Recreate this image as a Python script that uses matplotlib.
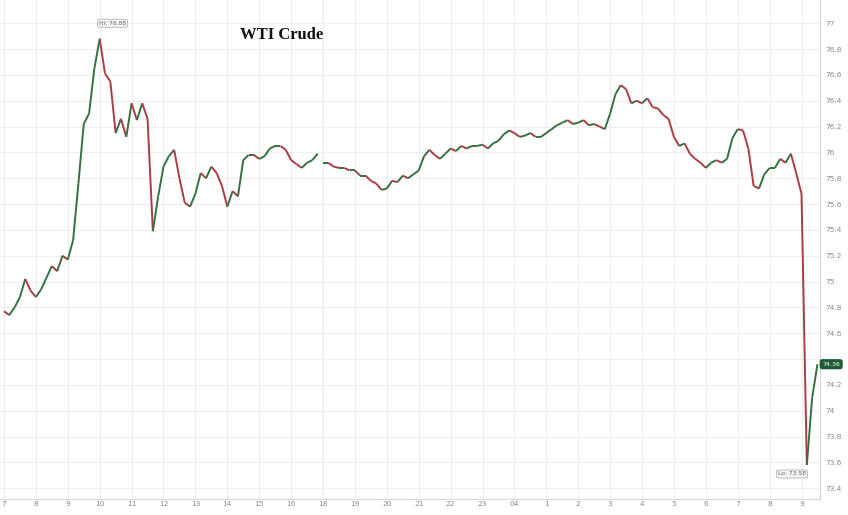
"""
WTI Crude intraday chart, 10-minute closes, two sessions split by the 17:00 break.
"""

import numpy as np
import matplotlib.pyplot as plt
from matplotlib.collections import LineCollection
from matplotlib.ticker import FixedLocator, FuncFormatter


# ---- Data ----

# session 1: 07:00 -> 17:00, one close every 10 minutes
session1_prices = [
    74.77, 74.74, 74.80, 74.88, 75.02, 74.93, 74.88, 74.94, 75.03, 75.12,
    75.08, 75.20, 75.17, 75.32, 75.76, 76.22, 76.30, 76.65, 76.88, 76.61,
    76.55, 76.15, 76.26, 76.12, 76.38, 76.25, 76.38, 76.26, 75.39, 75.66,
    75.89, 75.97, 76.02, 75.80, 75.61, 75.58, 75.68, 75.84, 75.80, 75.89,
    75.84, 75.74, 75.58, 75.70, 75.66, 75.94, 75.98, 75.98, 75.95, 75.97,
    76.03, 76.05, 76.05, 76.02, 75.94, 75.91, 75.88, 75.92, 75.94, 75.99,
]

# session 2: 18:00 -> 09:30 next day, one close every 10 minutes
session2_prices = [
    75.92, 75.92, 75.89, 75.88, 75.88, 75.86, 75.86, 75.82, 75.82, 75.78,
    75.76, 75.71, 75.72, 75.78, 75.77, 75.82, 75.80, 75.83, 75.86, 75.97,
    76.02, 75.98, 75.95, 75.99, 76.03, 76.01, 76.05, 76.03, 76.05, 76.05,
    76.06, 76.03, 76.07, 76.09, 76.14, 76.17, 76.15, 76.12, 76.13, 76.15,
    76.12, 76.12, 76.15, 76.18, 76.21, 76.23, 76.25, 76.22, 76.23, 76.25,
    76.21, 76.22, 76.20, 76.18, 76.30, 76.45, 76.52, 76.49, 76.38, 76.40,
    76.38, 76.42, 76.35, 76.34, 76.29, 76.26, 76.12, 76.05, 76.07, 75.99,
    75.95, 75.92, 75.88, 75.92, 75.94, 75.92, 75.95, 76.11, 76.18, 76.17,
    76.03, 75.74, 75.72, 75.83, 75.88, 75.88, 75.95, 75.92, 75.99, 75.84,
    75.68, 73.58, 74.10, 74.36,
]

hour_labels = ['7', '8', '9', '10', '11', '12', '13', '14', '15', '16',
               '18', '19', '20', '21', '22', '23', '04',
               '1', '2', '3', '4', '5', '6', '7', '8', '9']

price_ticks = [73.4, 73.6, 73.8, 74, 74.2, 74.4, 74.6, 74.8, 75, 75.2,
               75.4, 75.6, 75.8, 76, 76.2, 76.4, 76.6, 76.8, 77]

hi_price   = 76.88
lo_price   = 73.58
last_price = 74.36


# ---- Time axis (session hours, the 17:00 hour is skipped) ----

step = 1 / 6
session1_t = np.arange(len(session1_prices)) * step
session2_t = 10 + np.arange(len(session2_prices)) * step

up_color   = '#35703f'
down_color = '#a93c44'
grid_color = '#eeeeee'
text_color = '#8a8a8a'


def colored_line(ax, t, prices):
    """Draw the close-to-close path, green for up moves and red for down moves."""
    t      = np.asarray(t)
    prices = np.asarray(prices)
    points = np.column_stack([t, prices])
    segs   = np.stack([points[:-1], points[1:]], axis=1)
    colors = [up_color if b >= a else down_color for a, b in zip(prices[:-1], prices[1:])]
    ax.add_collection(LineCollection(segs, colors=colors, linewidths=1.4, zorder=3))


def price_label(v, _):
    # the 74.4 tick sits under the last-price tag
    if abs(v - 74.4) < 1e-6:
        return ''
    return f'{v:g}'


# ---- Figure ----

fig = plt.figure(figsize=(8.48, 5.15), dpi=100)
ax  = fig.add_axes([0.0, 0.032, 0.967, 0.968])

colored_line(ax, session1_t, session1_prices)
colored_line(ax, session2_t, session2_prices)

ax.set_xlim(-0.125, 25.58)
ax.set_ylim(73.32, 77.18)

ax.xaxis.set_major_locator(FixedLocator(np.arange(len(hour_labels))))
ax.set_xticklabels(hour_labels)
ax.yaxis.set_major_locator(FixedLocator(price_ticks))
ax.yaxis.set_major_formatter(FuncFormatter(price_label))
ax.yaxis.tick_right()

ax.grid(True, color=grid_color, linewidth=0.8, zorder=0)
ax.axvline(10, color='#dcdcdc', linewidth=0.8, zorder=1)

for side in ['top', 'left']:
    ax.spines[side].set_visible(False)
for side in ['right', 'bottom']:
    ax.spines[side].set_color('#d8d8d8')
    ax.spines[side].set_linewidth(0.8)

ax.tick_params(axis='both', length=0, labelsize=5.3, labelcolor=text_color)
ax.tick_params(axis='x', pad=2)
ax.tick_params(axis='y', pad=4)

# ---- Labels ----

ax.text(8.7, 76.91, 'WTI Crude', fontsize=12, fontweight='bold',
        family='Liberation Serif', ha='center', va='center', color='#111111')

label_box = dict(boxstyle='round,pad=0.25', fc='#f4f4f4', ec='#b5b5b5', lw=0.6)
ax.text(3.4, hi_price + 0.12, f'Hi: {hi_price:.2f}', fontsize=4.3, color='#666666',
        ha='center', va='center', bbox=label_box, zorder=5)
ax.text(24.7, lo_price - 0.07, f'Lo: {lo_price:.2f}', fontsize=4.3, color='#666666',
        ha='center', va='center', bbox=label_box, zorder=5)
ax.text(25.93, last_price, f'{last_price:.2f}', fontsize=4.5, color='white',
        ha='center', va='center', transform=ax.transData, clip_on=False, zorder=6,
        bbox=dict(boxstyle='round,pad=0.3', fc='#1f5c35', ec='#1f5c35'))

fig.savefig('out.png', dpi=100, facecolor='white')
